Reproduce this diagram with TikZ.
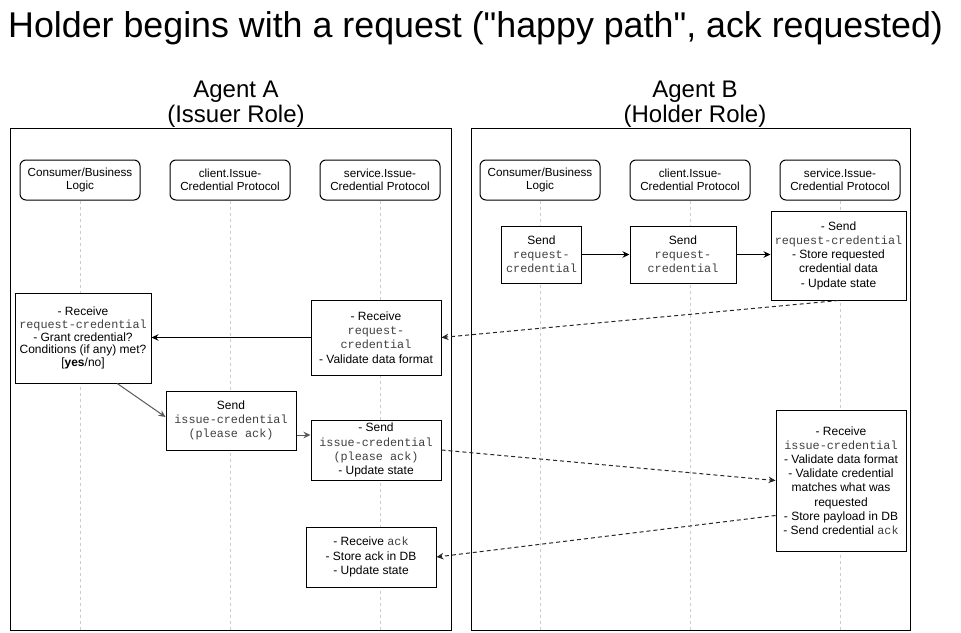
\documentclass[tikz,border=0pt]{standalone}
\usepackage{fontspec}
\setmainfont{Liberation Sans}
\setmonofont{Liberation Mono}
\newfontfamily\titlefont{Liberation Sans}[Ligatures=TeXOff]
\usetikzlibrary{arrows.meta,calc}
\newcommand{\mn}[1]{{\ttfamily\fontsize{11.8}{14}\selectfont\color{black!75}#1}}
\tikzset{
  cont/.style={draw, line width=1pt, inner sep=0pt},
  hdr/.style={draw, rounded corners=6pt, line width=1pt, minimum width=120pt, minimum height=40pt,
    align=center, font=\fontsize{11.7}{13}\selectfont, inner sep=0pt, fill=white},
  pbox/.style={draw, line width=1pt, fill=white, align=center, inner sep=0pt,
    font=\fontsize{12}{14.2}\selectfont},
  life/.style={draw=black!20, dash pattern=on 3pt off 3pt, line width=1pt},
  msg/.style={-{Stealth[length=7pt,width=6.5pt]}, line width=1pt},
  dmsg/.style={msg, dash pattern=on 4pt off 3pt, draw=black!85},
  gmsg/.style={msg, draw=black!65},
  ttl/.style={font=\fontsize{24}{29}\selectfont, anchor=base, inner sep=0pt},
}
\begin{document}
\begin{tikzpicture}[x=1pt,y=-1pt]
\useasboundingbox (0,0) rectangle (961,632);
\coordinate (bot) at (0,630);

% title
\node[anchor=base west, inner sep=0pt, font=\titlefont\fontsize{35.8}{43}\selectfont] (title) at (8,37.3)
  {Holder begins with a request ("happy path", ack requested)};

% agent titles
\node[ttl] (tA1) at (236,97) {Agent A};
\node[ttl] (tA2) at (236,122) {(Issuer Role)};
\node[ttl] (tB1) at (695,97) {Agent B};
\node[ttl] (tB2) at (695,122) {(Holder Role)};

% containers
\node[cont, minimum width=441pt, minimum height=502pt] (contA) at (230.5,379) {};
\node[cont, minimum width=439pt, minimum height=502pt] (contB) at (690.5,379) {};

% headers
\node[hdr] (hA1) at (80,180) {Consumer/Business\\Logic};
\node[hdr] (hA2) at (230,180) {client.Issue-\\Credential Protocol};
\node[hdr] (hA3) at (380,180) {service.Issue-\\Credential Protocol};
\node[hdr] (hB1) at (540,180) {Consumer/Business\\Logic};
\node[hdr] (hB2) at (690,180) {client.Issue-\\Credential Protocol};
\node[hdr] (hB3) at (840,180) {service.Issue-\\Credential Protocol};

% lifelines
\foreach \h in {hA1,hA2,hA3,hB1,hB2,hB3}
  \draw[life] (\h.south) -- (\h.south |- bot);

% process boxes, Agent B
\node[pbox, minimum width=80pt, minimum height=57pt] (B1) at (541.5,254.5)
  {Send\\\mn{request-}\\\mn{credential}};
\node[pbox, minimum width=106pt, minimum height=57pt] (B2) at (683,254.5)
  {Send\\\mn{request-}\\\mn{credential}};
\node[pbox, minimum width=135pt, minimum height=89pt] (B3) at (838.5,255.5)
  {- Send\\\mn{request-credential}\\- Store requested\\credential data\\- Update state};
\node[pbox, minimum width=130pt, minimum height=141pt] (B4) at (841,480.5)
  {- Receive\\\mn{issue-credential}\\- Validate data format\\- Validate credential\\matches what was\\requested\\- Store payload in DB\\- Send credential \mn{ack}};

% process boxes, Agent A
\node[pbox, minimum width=136pt, minimum height=90pt, font=\fontsize{12}{12.8}\selectfont] (A1) at (83,338)
  {- Receive\\\mn{request-credential}\\- Grant credential?\\Conditions (if any) met?\\{[}\textbf{yes}/no{]}};
\node[pbox, minimum width=130pt, minimum height=75pt] (A2) at (376,337.5)
  {- Receive\\\mn{request-}\\\mn{credential}\\- Validate data format};
\node[pbox, minimum width=130pt, minimum height=59pt] (A3) at (231,420.5)
  {Send\\\mn{issue-credential}\\\mn{(please ack)}};
\node[pbox, minimum width=130pt, minimum height=60pt] (A4) at (376,450)
  {- Send\\\mn{issue-credential}\\\mn{(please ack)}\\- Update state};
\node[pbox, minimum width=130pt, minimum height=60pt] (A5) at (371,557)
  {- Receive \mn{ack}\\- Store ack in DB\\- Update state};

% connectors
\draw[msg] (B1.east) -- (B2.west);
\draw[msg] (B2.east) -- (B2.east -| B3.west);
\draw[dmsg] (B3.south) -- (A2.east);
\draw[msg] (A2.west) -- (A2.west -| A1.east);
\draw[gmsg] ($(A1.south west)!0.75!(A1.south east)$) -- ($(A3.west)+(0,-3.5)$);
\draw[gmsg] ($(A3.east)+(0,14.5)$) -- ($(A4.west)+(0,-15)$);
\draw[dmsg] (A4.east) -- (B4.west);
\draw[dmsg] ($(B4.west)+(0,35)$) -- (A5.east);
\end{tikzpicture}
\end{document}
